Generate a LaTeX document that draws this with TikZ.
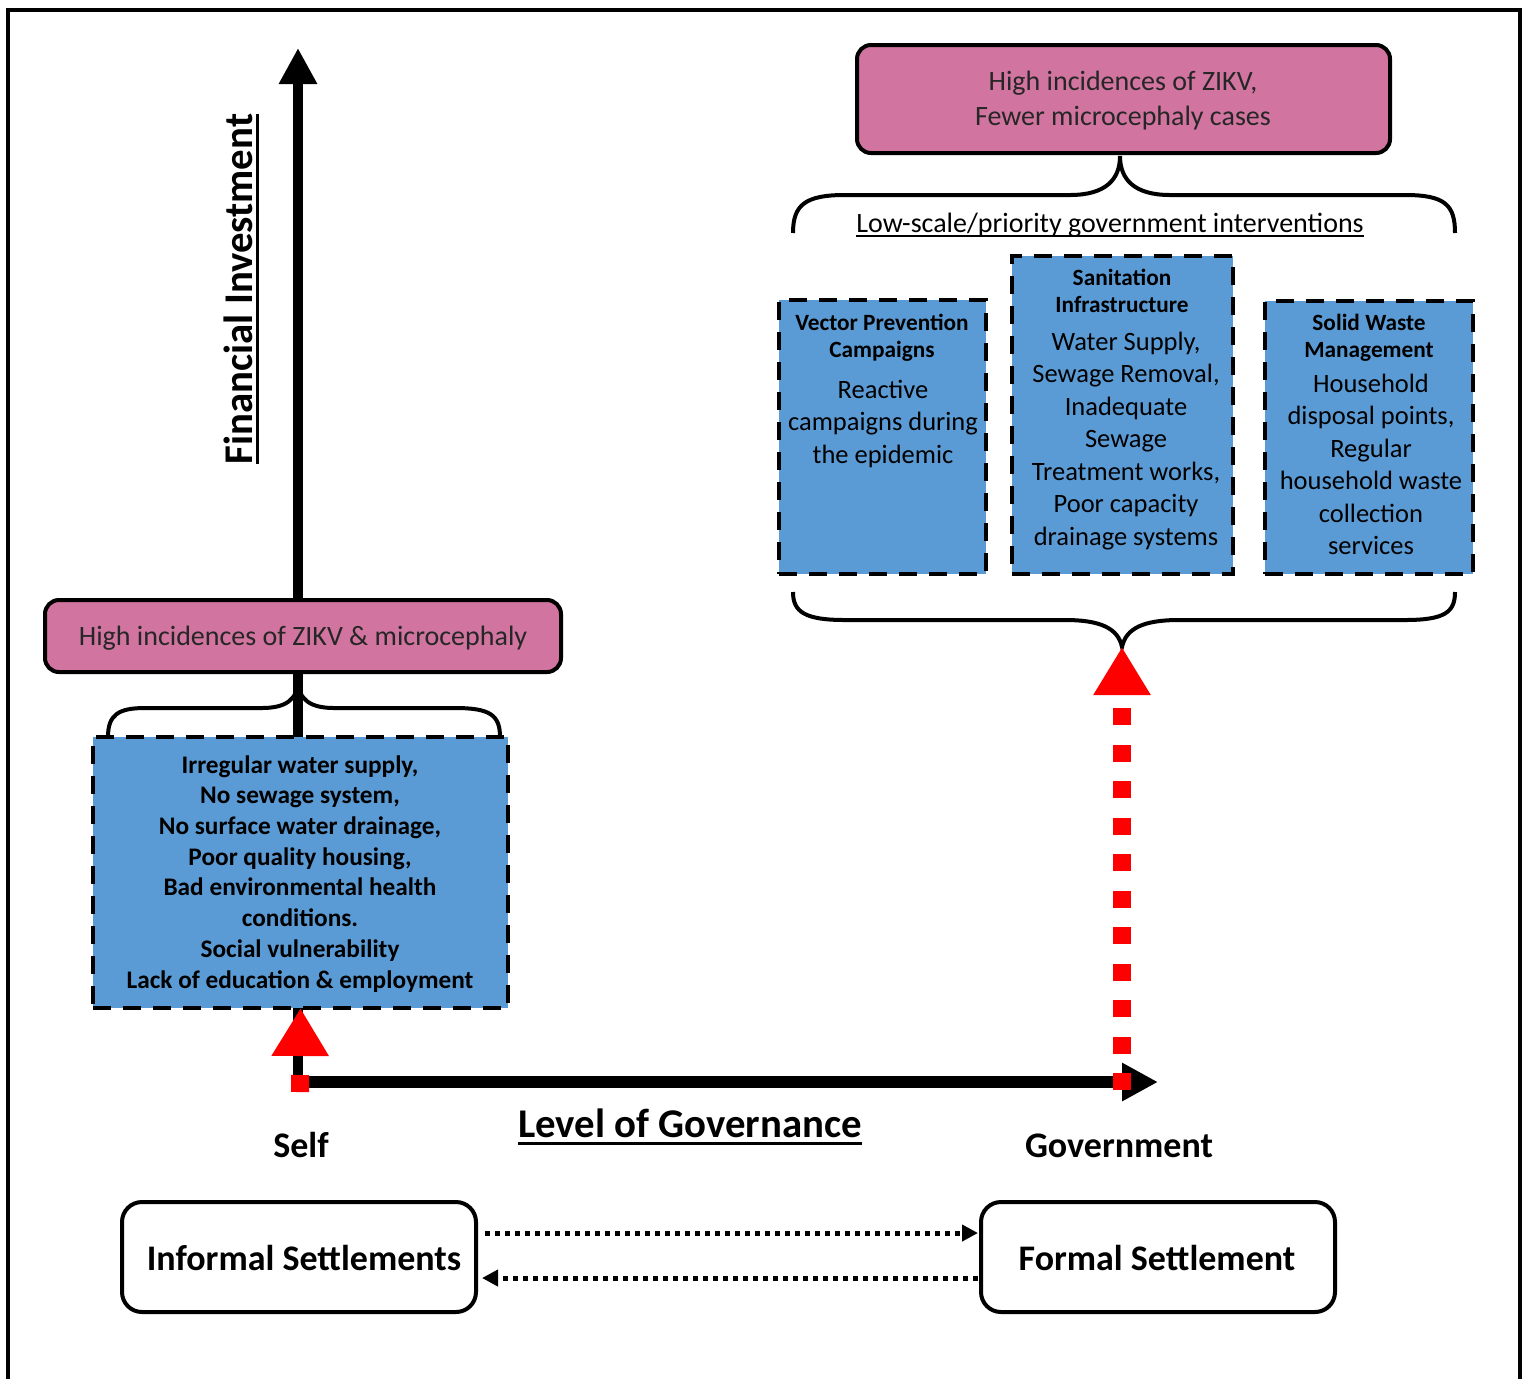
\documentclass[tikz,border=0pt]{standalone}
\usepackage{fontspec}
\setmainfont{Carlito}
\usetikzlibrary{arrows.meta,calc}

\definecolor{zpink}{RGB}{209,117,160}
\definecolor{zblue}{RGB}{91,155,213}
\definecolor{zred}{RGB}{255,0,0}

% font size and line spacing
\newcommand\fsz[2]{\fontsize{#1}{#2}\selectfont}
% underline: depth of the rule's lower edge, rule thickness, text
\newcommand\undl[3]{\setbox0=\hbox{#3}\leavevmode\rlap{\rule[-#1]{\wd0}{#2}}\box0}

\begin{document}
\begin{tikzpicture}[x=0.5pt,y=-0.5pt,
  frame/.style={line width=2pt},
  vaxis/.style={line width=5pt,-{Triangle[length=18pt,width=18pt]}},
  haxis/.style={line width=6pt,-{Triangle[length=18pt,width=18pt]}},
  pinkbox/.style={draw,line width=2pt,rounded corners=7pt,fill=zpink,inner sep=0pt,outer sep=0pt},
  bluebox/.style={draw,line width=2.25pt,dash pattern=on 9pt off 6pt,fill=zblue,inner sep=0pt,outer sep=0pt},
  whitebox/.style={draw,line width=2pt,rounded corners=10pt,fill=white,inner sep=0pt,outer sep=0pt},
  brace/.style={line width=2pt},
  redarrow/.style={draw=zred,line width=9pt,dash pattern=on 8.5pt off 9.75pt,-{Triangle[length=24pt,width=27pt,fill=zred]}},
  dotarrow/.style={line width=2.5pt,dash pattern=on 2.4pt off 2.6pt,-{Triangle[length=8pt,width=8pt]}},
  txt/.style={inner sep=0pt,outer sep=0pt,align=center,anchor=base},
  pinktxt/.style={txt,text=black!85,font=\fsz{14pt}{17.5pt}},
  bodytxt/.style={txt,font=\fsz{13.25pt}{16.25pt}},
  titletxt/.style={txt,font=\bfseries\fsz{11.65pt}{13.25pt}},
  axistxt/.style={txt,font=\bfseries\fsz{18pt}{21pt}}
]
\useasboundingbox (0,0) rectangle (1525,1378);

% outer frame
\draw[frame] (8,1382) -- (8,10) -- (1520,10) -- (1520,1382);

% axes
\coordinate (origin) at (298,1082);
\coordinate (ytop) at (298,48);
\coordinate (xend) at (1158,1082);
\draw[vaxis] (origin) -- (ytop);
\draw[haxis] (292,1082) -- (xend);

% braces
\coordinate (lcusp) at (298,680);
\draw[brace] (108,737) .. controls (108,715) and (118,708) .. (145,708) -- (262,708)
  .. controls (285,708) and (298,700) .. (lcusp)
  .. controls (298,700) and (311,708) .. (334,708) -- (455,708)
  .. controls (490,708) and (500,715) .. (500,737);

\coordinate (topcusp) at (1120,156);
\draw[brace] (793,233) .. controls (793,205) and (805,195) .. (845,195) -- (1070,195)
  .. controls (1105,195) and (1120,180) .. (topcusp)
  .. controls (1120,180) and (1135,195) .. (1170,195) -- (1405,195)
  .. controls (1445,195) and (1455,205) .. (1455,233);

\coordinate (lowcusp) at (1122,647);
\draw[brace] (793,592) .. controls (793,612) and (805,620) .. (845,620) -- (1065,620)
  .. controls (1100,620) and (1118,628) .. (lowcusp)
  .. controls (1126,628) and (1144,620) .. (1179,620) -- (1405,620)
  .. controls (1445,620) and (1455,612) .. (1455,592);

% boxes
\node[pinkbox,minimum width=258pt,minimum height=36pt] (lpink) at (303,636) {};
\node[pinkbox,minimum width=266.5pt,minimum height=54pt] (rpink) at (1123.5,99) {};
\node[bluebox,minimum width=207.5pt,minimum height=135.5pt] (lbox) at (300.5,872.5) {};
\node[bluebox,minimum width=103.5pt,minimum height=137pt] (vec) at (882.5,437) {};
\node[bluebox,minimum width=110.5pt,minimum height=159pt] (san) at (1122.5,415) {};
\node[bluebox,minimum width=104pt,minimum height=136.5pt] (sol) at (1369,437.5) {};
\node[whitebox,minimum width=177pt,minimum height=55pt] (inf) at (299,1257) {};
\node[whitebox,minimum width=177pt,minimum height=55pt] (form) at (1158,1257) {};

% red arrows
\coordinate (selfpt) at (300,1092);
\coordinate (govpt) at (1122,1090);
\draw[redarrow] (selfpt) -- (lbox.south);
\draw[redarrow] (govpt) -- (lowcusp);

% settlement arrows
\draw[dotarrow,shorten <=4.5pt,shorten >=1.5pt] ([yshift=12pt]inf.east) -- ([yshift=12pt]form.west);
\draw[dotarrow,shorten <=1.5pt,shorten >=3pt] ([yshift=-10.5pt]form.west) -- ([yshift=-10.5pt]inf.east);

% texts (multi-line nodes are placed by the baseline of their last line)
\node[txt,rotate=90,font=\bfseries\fsz{20.4pt}{24pt}] (fin) at (252,289) {\undl{3.6pt}{1.5pt}{Financial Investment}};
\node[pinktxt] (lpinkt) at (303,645) {High incidences of ZIKV \& microcephaly};
\node[pinktxt] (rpinkt) at (1123,125) {High incidences of ZIKV,\\Fewer microcephaly cases};
\node[txt,font=\fsz{14pt}{17pt}] (lowt) at (1110,232) {\undl{2.6pt}{1pt}{Low-scale/priority government interventions}};

\node[titletxt] (vect) at (882,357) {Vector Prevention\\Campaigns};
\node[bodytxt] (vecb) at (883,463) {Reactive\\campaigns during\\the epidemic};
\node[titletxt] (sant) at (1122,312) {Sanitation\\Infrastructure};
\node[bodytxt] (sanb) at (1126,545) {Water Supply,\\Sewage Removal,\\Inadequate\\Sewage\\Treatment works,\\Poor capacity\\drainage systems};
\node[titletxt] (solt) at (1369,357) {Solid Waste\\Management};
\node[bodytxt] (solb) at (1371,554.5) {Household\\disposal points,\\Regular\\household waste\\collection\\services};

\node[txt,font=\bfseries\fsz{12.65pt}{15.35pt}] (lboxt) at (300,988) {Irregular water supply,\\No sewage system,\\No surface water drainage,\\Poor quality housing,\\Bad environmental health\\conditions.\\Social vulnerability\\Lack of education \& employment};

\node[axistxt] (self) at (301,1157) {Self};
\node[axistxt] (gov) at (1119,1157) {Government};
\node[txt,font=\bfseries\fsz{20.4pt}{24pt}] (lev) at (690,1137) {\undl{4pt}{1.5pt}{Level of Governance}};

\node[axistxt] (inft) at (304,1270) {Informal Settlements};
\node[axistxt] (formt) at (1157,1270) {Formal Settlement};
\end{tikzpicture}
\end{document}
